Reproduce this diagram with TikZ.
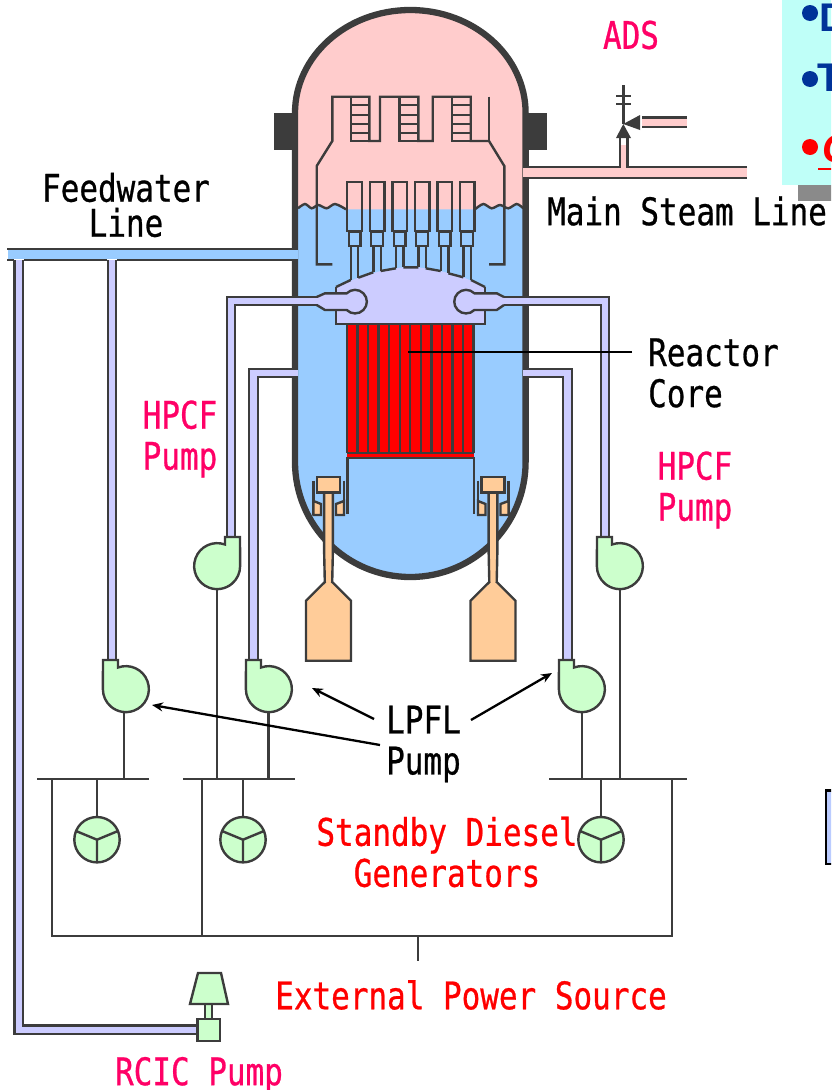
\documentclass[tikz,border=0pt]{standalone}
\usepackage{fontspec}
\usetikzlibrary{arrows.meta}
\newfontfamily\fuenterotulo[FakeStretch=0.815,FakeBold=0.7]{DejaVu Sans Mono}
\newfontfamily\fuentepanel{Liberation Sans}
\definecolor{gris}{HTML}{3C3C3C}
\definecolor{rosa}{HTML}{FFCCCC}
\definecolor{azul}{HTML}{99CCFF}
\definecolor{lavanda}{HTML}{CCCCFF}
\definecolor{naranja}{HTML}{FFCC99}
\definecolor{verde}{HTML}{CCFFCC}
\definecolor{magenta}{HTML}{FF0066}
\definecolor{cian}{HTML}{BFFFF8}
\definecolor{azuloscuro}{HTML}{003399}
\definecolor{celeste}{HTML}{BBCCFF}
\tikzset{
  linea/.style={draw=gris,line width=2.4},
  tuberia/.style={draw=gris,line width=2.4,double=lavanda,double distance=6.1},
  rotulo/.style={font=\fuenterotulo\fontsize{38}{41}\selectfont,inner sep=0,align=center},
  panel/.style={font=\fuentepanel\bfseries\fontsize{40}{44}\selectfont,inner sep=0,anchor=base west},
  flecha/.style={line width=2.3,-{Stealth[length=11,width=9]}}
}
\def\olaizq{(298,208.3) (305,204) (311.7,208.3) (318.3,205) (326.7,208.3) (335,204) (346,209.3)}
\def\olader{(475,209.3) (483.3,204) (491.7,208.3) (500,205) (508.3,208.3) (516.7,204) (523.3,208.3)}
\begin{document}
\begin{tikzpicture}[x=1pt,y=-1pt]
  \useasboundingbox (0,0) rectangle (831,1090);
  \clip (0,0) rectangle (831,1090);

  % Panel de arriba a la derecha
  \fill[cian] (782,0) rectangle (835,185);
  \fill[gris!60] (798,185) rectangle (835,201);
  \fill[azuloscuro] (810,13) circle (8);
  \fill[azuloscuro] (810,79) circle (8);
  \fill[red] (810,147) circle (8);
  \node[panel,text=azuloscuro] (letrad) at (819,31) {D};
  \node[panel,text=azuloscuro] (letrat) at (817,91) {T};
  \node[panel,text=red] (letrag) at (822,162) {\itshape G};
  \draw[red,line width=2.5] (818,169) -- (835,169);
  \draw[black,line width=2.5,fill=celeste] (826,790.5) rectangle (840,864);

  % Tuberias exteriores
  \draw[tuberia] (18.7,260) -- (18.7,1029.7) -- (197,1029.7);
  \draw[tuberia] (112,260) -- (112,662);
  \draw[tuberia] (298,373) -- (253.5,373) -- (253.5,662);
  \draw[tuberia] (523,373) -- (567.5,373) -- (567.5,662);
  \draw[tuberia] (231,540) -- (231,301) -- (317,301);
  \draw[tuberia] (605,540) -- (605,301) -- (504,301);

  % Interior de la vasija
  \begin{scope}
    \clip (295,113) arc (180:360:115.3 and 103) -- (525.6,462) arc (0:180:115.3 and 115) -- cycle;
    \fill[rosa] (290,0) rectangle (530,210);
    \fill[azul] (290,600) -- (290,208) -- plot[smooth] coordinates {\olaizq} -- (475,209.3)
      -- plot[smooth] coordinates {\olader} -- (530,208) -- (530,600) -- cycle;
  \end{scope}
  \draw[linea] plot[smooth] coordinates {\olaizq};
  \draw[linea] plot[smooth] coordinates {\olader};

  % Secador
  \draw[linea] (332.3,264.3) -- (316.7,264.3) -- (316.7,166) -- (332.3,141) -- (332.3,96.7) -- (369.3,96.7)
    -- (369.3,141) -- (380,141) -- (380,96.7) -- (418.3,96.7) -- (418.3,141) -- (432.7,141) -- (432.7,96.7)
    -- (470.7,96.7) -- (470.7,141) -- (489,141) -- (504.3,166) -- (504.3,264.3) -- (489,264.3);
  \draw[linea] (489,96.7) -- (489,141);
  \foreach \x in {351,399.3,451.7}{
    \draw[linea] (\x,96.7) -- (\x,141) -- (\x+19,141);
    \foreach \y in {105,115,124,132.7}
      \draw[linea] (\x,\y) -- (\x+19,\y);
  }

  % Separadores
  \fill[lavanda] (336,324) -- (336,287) -- (358.3,277.7) -- (380.7,271) -- (403.3,267.3) -- (418.3,267.3)
    -- (440.7,271) -- (463.3,277.3) -- (485,287) -- (485,324) -- cycle;
  \foreach \c/\ya/\yb in {354.5/280/277.7,377/272.3/271,399.6/268.3/267.3,422/267.3/268.3,444.6/271/273.3,467/277.3/280}{
    \draw[linea] (\c-7.3,182) rectangle (\c+7.3,230.7);
    \draw[linea] (\c-5.8,231.7) rectangle (\c+5.8,246);
    \draw[linea] (\c-3.7,246) -- (\c-3.7,\ya) (\c+3.7,246) -- (\c+3.7,\yb);
  }
  \draw[linea] (336,287) -- (350.7,280) (358.3,277.7) -- (373.3,272.3) (380.7,271) -- (396,268.3)
    (403.3,267.3) -- (418.3,267.3) (425.7,268.3) -- (440.7,271) (448.3,273.3) -- (463.3,277.3) (471,280) -- (485,287);
  \draw[linea] (336,287) -- (336,293) (336,310) -- (336,324) -- (485,324) -- (485,310) (485,293) -- (485,287);
  \draw[linea,fill=lavanda] (316.7,297) -- (325,293.3) -- (346.7,293.3) arc (225:495:11.8) -- (325,310) -- (316.7,305);
  \draw[linea,fill=lavanda] (504,297) -- (496.7,293.3) -- (474.4,293.3) arc (315:45:11.8) -- (496.7,310) -- (504,305);

  % Nucleo del reactor
  \fill[red] (347,324) rectangle (473.5,458);
  \foreach \i in {0,...,12}
    \draw[linea] (347+10.54*\i,324) -- (347+10.54*\i,453);
  \draw[linea] (347,324) -- (473.5,324) (347,453) -- (473.5,453);
  \draw[linea] (347.3,514) -- (347.3,458) -- (473.7,458) -- (473.7,514);

  % Pared de la vasija
  \draw[gris,line width=6.3] (295,113) arc (180:360:115.3 and 103) -- (525.6,462) arc (0:180:115.3 and 115) -- cycle;
  \fill[gris] (274.3,113.3) rectangle (293,150);
  \fill[gris] (528,113.3) rectangle (546.7,150);

  % Entradas a traves de la pared
  \draw[tuberia] (285,301) -- (317,301);
  \draw[tuberia] (530,301) -- (504,301);
  \draw[tuberia] (285,373) -- (298,373);
  \draw[tuberia] (535,373) -- (523,373);
  \fill[lavanda] (315,298) rectangle (326,304);
  \fill[lavanda] (496,298) rectangle (506,304);

  % Linea de agua de alimentacion
  \fill[azul] (8,250) rectangle (298,259);
  \draw[linea] (7,249) -- (297,249);
  \draw[linea] (7,260) -- (13.5,260) (24,260) -- (107,260) (117,260) -- (297,260);

  % Linea de vapor principal y ADS
  \fill[rosa] (523,167.7) rectangle (747,177);
  \fill[rosa] (621,145) rectangle (626.3,168);
  \draw[linea] (527,178) -- (747,178);
  \draw[linea] (527,166.7) -- (620,166.7) -- (620,136);
  \draw[linea] (747,166.7) -- (627.3,166.7) -- (627.3,136);
  \fill[gris] (623.3,124) -- (631,138) -- (616,138) -- cycle;
  \fill[gris] (623.3,124) -- (640,115) -- (640,130) -- cycle;
  \draw[linea] (623.3,124) -- (623.3,85);
  \draw[linea] (616,96) -- (631,96) (616,104) -- (631,104);
  \fill[rosa] (642,118) rectangle (687,127);
  \draw[linea] (642,117.5) -- (687,117.5) (642,126.7) -- (687,126.7);

  % Barras de control
  \foreach \c in {328.5,493}{
    \draw[linea,fill=naranja] (\c-4.4,492) -- (\c-4.4,550) -- (\c-3.7,582) -- (\c-22.5,600.7) -- (\c-22.5,660.7)
      -- (\c+22.5,660.7) -- (\c+22.5,600.7) -- (\c+3.7,582) -- (\c+4.4,550) -- (\c+4.4,492);
    \draw[linea,fill=naranja] (\c-11.5,476.7) rectangle (\c+11.5,492.3);
    \draw[linea] (\c-15,480.7) -- (\c-15,515) (\c+15.5,480.7) -- (\c+15.5,515);
    \draw[linea,fill=naranja] (\c-15,501) -- (\c-7.5,504) -- (\c-7.5,515) -- (\c-15,515) -- cycle;
    \draw[linea,fill=naranja] (\c+15.5,501) -- (\c+7.5,504) -- (\c+7.5,515) -- (\c+15.5,515) -- cycle;
  }

  % Bombas
  \foreach \cx/\cy/\s in {126/689.5/1,269/689.5/1,582/689.5/1,620/566.5/1,217/566.5/-1}{
    \begin{scope}[shift={(\cx,\cy)},xscale=\s]
      \draw[linea,fill=verde] (-23,-29.5) -- (-8,-29.5) -- (-8,-22) arc (250:540:23) -- cycle;
    \end{scope}
  }
  \draw[linea] (124,712) -- (124,779) (268.5,712) -- (268.5,779) (582,712) -- (582,779);
  \draw[linea] (217,590) -- (217,779) (620,590) -- (620,779);

  % Barras y generadores
  \draw[linea] (37,779) -- (149,779) (183,779) -- (295,779) (549,779) -- (687,779);
  \draw[linea] (52,779) -- (52,936) -- (672,936) -- (672,779);
  \draw[linea] (202,779) -- (202,936);
  \draw[linea] (418,936) -- (418,961);
  \foreach \x in {97,243,601}{
    \draw[linea] (\x,779) -- (\x,817);
    \draw[linea,fill=verde] (\x,839.7) circle (22.7);
    \draw[linea] (\x,862) -- (\x,839.7) -- (\x-21,831) (\x,839.7) -- (\x+21,831);
  }

  % Bomba RCIC
  \draw[linea,fill=verde] (205,1004) rectangle (212,1019);
  \draw[linea,fill=verde] (198,973) -- (221,973) -- (228,1004) -- (190,1004) -- cycle;
  \draw[linea,fill=verde] (197.5,1019) rectangle (220,1041);

  % Rotulos
  \node[rotulo,text=magenta] (ads) at (631,35) {ADS};
  \node[rotulo,font=\fuenterotulo\fontsize{38}{35}\selectfont] (agua) at (126,205) {Feedwater\\Line};
  \node[rotulo,anchor=west] (vapor) at (547,211) {Main Steam Line};
  \node[rotulo,align=left,anchor=west] (reactor) at (648,373) {Reactor\\Core};
  \node[rotulo,text=magenta] (hpcfa) at (180,439) {HPCF\\Pump};
  \node[rotulo,text=magenta] (hpcfb) at (695,490) {HPCF\\Pump};
  \node[rotulo,align=left,anchor=west] (lpfl) at (386,744) {LPFL\\Pump};
  \node[rotulo,text=red] (diesel) at (447,852) {Standby Diesel\\Generators};
  \node[rotulo,text=red] (externa) at (471,995) {External Power Source};
  \node[rotulo,text=magenta] (rcic) at (199,1075) {RCIC Pump};

  % Flechas
  \coordinate (nucleo) at (408,352);
  \coordinate (salida) at (632,352);
  \coordinate (bombaa) at (152,705);
  \coordinate (bombab) at (312,688);
  \coordinate (bombac) at (552,673);
  \coordinate (lpfla) at (380,745);
  \coordinate (lpflb) at (374,719);
  \coordinate (lpflc) at (471,720);
  \draw[black,line width=2.3] (salida) -- (nucleo);
  \draw[flecha] (lpfla) -- (bombaa);
  \draw[flecha] (lpflb) -- (bombab);
  \draw[flecha] (lpflc) -- (bombac);
\end{tikzpicture}
\end{document}
